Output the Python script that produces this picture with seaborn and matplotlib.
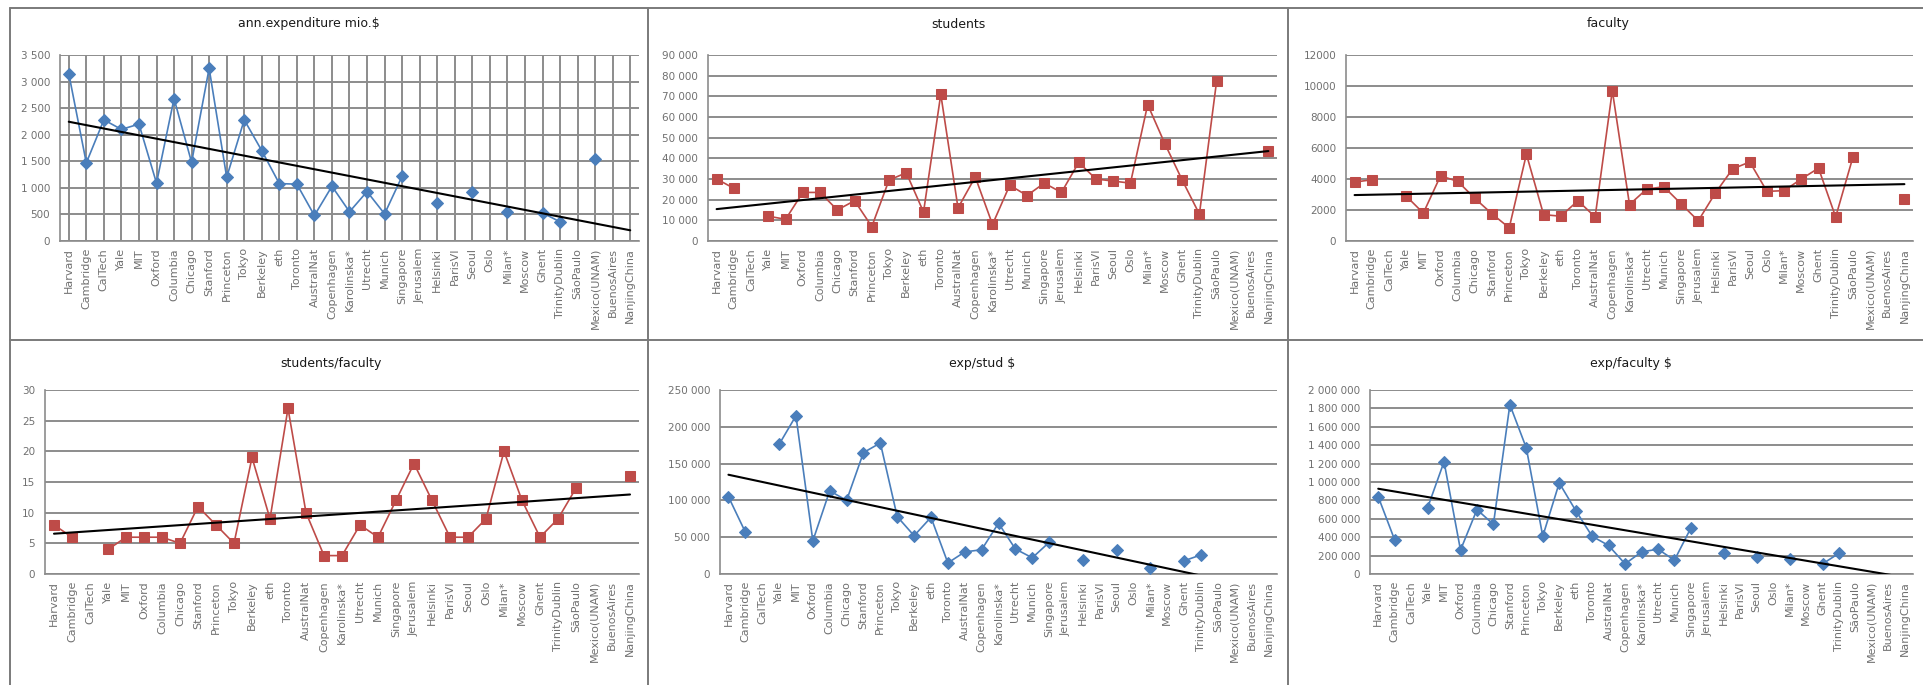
import numpy as np
import pandas as pd
import matplotlib
matplotlib.use("Agg")
import matplotlib.pyplot as plt
import seaborn as sns
from matplotlib.lines import Line2D
from matplotlib.ticker import FuncFormatter, MultipleLocator, FixedLocator

nan = np.nan

universities = [
    "Harvard", "Cambridge", "CalTech", "Yale", "MIT", "Oxford", "Columbia",
    "Chicago", "Stanford", "Princeton", "Tokyo", "Berkeley", "eth", "Toronto",
    "AustralNat", "Copenhagen", "Karolinska*", "Utrecht", "Munich",
    "Singapore", "Jerusalem", "Helsinki", "ParisVI", "Seoul", "Oslo",
    "Milan*", "Moscow", "Ghent", "TrinityDublin", "SãoPaulo",
    "Mexico(UNAM)", "BuenosAires", "NanjingChina",
]

expenditure_mio = [
    3150, 1470, 2280, 2100, 2200, 1090, 2680, 1480, 3250, 1200, 2280, 1700,
    1080, 1070, 480, 1030, 550, 930, 510, 1220, nan, 720, nan, 930, nan,
    550, nan, 530, 360, nan, 1550, nan, nan,
]

students = [
    30000, 25500, nan, 12000, 10500, 23500, 23500, 15000, 19500, 7000, 29500,
    33000, 14000, 71000, 16000, 31000, 8000, 27000, 22000, 28000, 23500,
    38000, 30000, 29000, 28000, 66000, 47000, 29500, 13000, 77500, nan, nan,
    43500,
]

faculty = [
    3800, 3950, nan, 2900, 1800, 4200, 3850, 2750, 1750, 850, 5600, 1700,
    1600, 2600, 1550, 9700, 2350, 3350, 3500, 2400, 1300, 3100, 4650, 5100,
    3200, 3250, 4000, 4700, 1550, 5400, nan, nan, 2700,
]

students_per_faculty = [
    8, 6, nan, 4, 6, 6, 6, 5, 11, 8, 5, 19, 9, 27, 10, 3, 3, 8, 6, 12, 18,
    12, 6, 6, 9, 20, 12, 6, 9, 14, nan, nan, 16,
]

exp_per_student = [
    105000, 57000, nan, 176000, 215000, 45000, 113000, 100000, 165000,
    178000, 78000, 52000, 77000, 15000, 30000, 33000, 69000, 34000, 22000,
    43000, nan, 19000, nan, 32000, nan, 8000, nan, 18000, 26000, nan, nan,
    nan, nan,
]

exp_per_faculty = [
    840000, 370000, nan, 720000, 1220000, 260000, 700000, 540000, 1840000,
    1370000, 410000, 990000, 690000, 410000, 310000, 110000, 240000, 270000,
    150000, 500000, nan, 230000, nan, 190000, nan, 160000, nan, 110000,
    225000, nan, nan, nan, nan,
]

BLUE = "#4A7EBB"
RED = "#BE4B48"
GRID = "#8C8C8C"
TICK = "#707070"

W, H = 1923, 685
fig = plt.figure(figsize=(W / 100, H / 100), dpi=100)
fig.patch.set_facecolor("white")
sns.set_style("white")
plt.rcParams["font.family"] = ["DejaVu Sans"]


def spaced(v, _pos):
    return f"{int(round(v)):,}".replace(",", " ")


def plain(v, _pos):
    return f"{int(round(v))}"


panels = [
    # title, values, color, marker, ymax, step, formatter,
    # plot box in px (left, right, top, bottom), title centre (x, y), vgrid
    ("ann.expenditure mio.$", expenditure_mio, BLUE, "D", 3500, 500, spaced,
     (60, 639, 55, 241), (309, 24), True),
    ("students", students, RED, "s", 90000, 10000, spaced,
     (708, 1277, 55, 241), (958, 24), False),
    ("faculty", faculty, RED, "s", 12000, 2000, plain,
     (1346, 1913, 55, 241), (1608, 24), False),
    ("students/faculty", students_per_faculty, RED, "s", 30, 5, plain,
     (45, 639, 390, 574), (331, 364), False),
    ("exp/stud $", exp_per_student, BLUE, "D", 250000, 50000, spaced,
     (720, 1277, 390, 574), (982, 364), False),
    ("exp/faculty $", exp_per_faculty, BLUE, "D", 2000000, 200000, spaced,
     (1370, 1913, 390, 574), (1631, 364), False),
]

n = len(universities)
pos = np.arange(n)

for title, values, color, marker, ymax, step, fmt, box, tpos, vgrid in panels:
    l, r, t, b = box
    ax = fig.add_axes([l / W, 1 - b / H, (r - l) / W, (b - t) / H])
    ax.set_facecolor("white")

    vals = np.asarray(values, dtype=float)
    # split the series into runs of consecutive values so gaps stay open
    seg = np.cumsum(np.isnan(vals))
    df = pd.DataFrame({"pos": pos, "val": vals, "seg": seg}).dropna()

    ax.set_ylim(0, ymax)
    ax.set_xlim(-0.5, n - 0.5)
    ax.yaxis.set_major_locator(MultipleLocator(step))
    ax.yaxis.set_major_formatter(FuncFormatter(fmt))
    ax.grid(axis="y", color=GRID, lw=1.4, zorder=0)
    if vgrid:
        for x in pos:
            ax.axvline(x, color=GRID, lw=1.4, zorder=0)

    sns.lineplot(data=df, x="pos", y="val", units="seg", estimator=None,
                 color=color, lw=1.2, marker=marker,
                 markersize=6.5 if marker == "s" else 6,
                 markeredgecolor=color, markerfacecolor=color,
                 ax=ax, legend=False, zorder=3)

    # linear trend over category index
    slope, intercept = np.polyfit(df["pos"], df["val"], 1)
    xs = np.array([0, n - 1], dtype=float)
    sns.lineplot(x=xs, y=slope * xs + intercept, color="black", lw=1.5,
                 ax=ax, legend=False, zorder=4)
    ax.set_ylim(0, ymax)

    ax.set_xlabel("")
    ax.set_ylabel("")
    ax.set_xticks(pos)
    ax.set_xticklabels(universities, rotation=90, fontsize=8, color=TICK)
    ax.tick_params(axis="x", which="major", length=0, pad=5)
    ax.xaxis.set_minor_locator(FixedLocator(np.arange(-0.5, n, 1.0)))
    ax.tick_params(axis="x", which="minor", length=4, width=1, color=GRID,
                   direction="out")
    ax.tick_params(axis="y", length=4, width=1, color=GRID, labelsize=7.5,
                   labelcolor=TICK, pad=3)

    for side in ("top", "right"):
        ax.spines[side].set_visible(False)
    for side in ("left", "bottom"):
        ax.spines[side].set_color(GRID)
        ax.spines[side].set_linewidth(1.2)

    fig.text(tpos[0] / W, 1 - tpos[1] / H, title, ha="center", va="center",
             fontsize=9, color="#1A1A1A")

# chart-area frames
frame = dict(color="#7A7A7A", lw=1.4)
for x in (10, 648, 1288):
    fig.add_artist(Line2D([x / W, x / W], [0, 1 - 8 / H], **frame))
for y in (8, 340):
    fig.add_artist(Line2D([10 / W, 1], [1 - y / H, 1 - y / H], **frame))

fig.savefig("out.png", dpi=100, facecolor="white")
